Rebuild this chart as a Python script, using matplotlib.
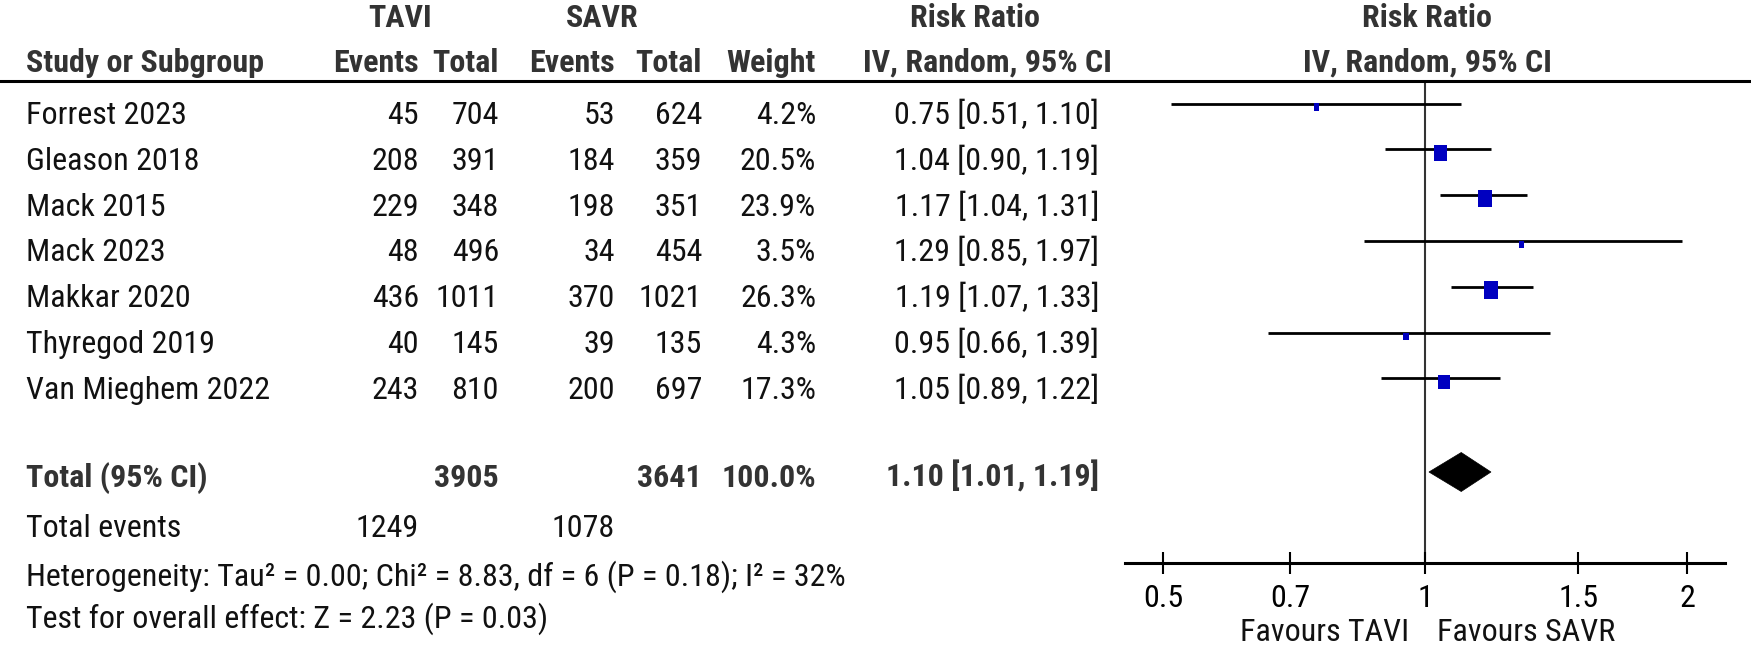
import matplotlib
matplotlib.use('Agg')
import matplotlib.pyplot as plt
from matplotlib import font_manager
from matplotlib.lines import Line2D
from matplotlib.patches import Polygon
from matplotlib.ticker import FixedLocator, FixedFormatter, NullLocator
import numpy as np

# ---------------- data ----------------
studies = ["Forrest 2023", "Gleason 2018", "Mack 2015", "Mack 2023",
           "Makkar 2020", "Thyregod 2019", "Van Mieghem 2022"]
tavi_events = [45, 208, 229, 48, 436, 40, 243]
tavi_total = [704, 391, 348, 496, 1011, 145, 810]
savr_events = [53, 184, 198, 34, 370, 39, 200]
savr_total = [624, 359, 351, 454, 1021, 135, 697]
weights = [4.2, 20.5, 23.9, 3.5, 26.3, 4.3, 17.3]
rr = [0.75, 1.04, 1.17, 1.29, 1.19, 0.95, 1.05]
ci_lo = [0.51, 0.90, 1.04, 0.85, 1.07, 0.66, 0.89]
ci_hi = [1.10, 1.19, 1.31, 1.97, 1.33, 1.39, 1.22]
total_tavi = 3905
total_savr = 3641
total_weight = 100.0
total_events_tavi = 1249
total_events_savr = 1078
pooled_rr = 1.10
pooled_lo = 1.01
pooled_hi = 1.19
tick_values = [0.5, 0.7, 1, 1.5, 2]
tick_labels = ["0.5", "0.7", "1", "1.5", "2"]
heterogeneity = "Heterogeneity: Tau\u00b2 = 0.00; Chi\u00b2 = 8.83, df = 6 (P = 0.18); I\u00b2 = 32%"
overall_effect = "Test for overall effect: Z = 2.23 (P = 0.03)"
favours_left = "Favours TAVI"
favours_right = "Favours SAVR"

# ---------------- fonts ----------------
names = {f.name for f in font_manager.fontManager.ttflist}
FAM, FS = ['Liberation Sans', 'DejaVu Sans'], 19.5
for cand, size in [('Liberation Sans Narrow', 23.5), ('Arial Narrow', 23.5),
                   ('Roboto Condensed', 23.0), ('Open Sans Condensed', 21.0),
                   ('Noto Sans Condensed', 21.5)]:
    if cand in names:
        FAM, FS = [cand, 'DejaVu Sans'], size
        break
plt.rcParams['font.family'] = FAM

W, H = 1751, 648
fig = plt.figure(figsize=(W / 100, H / 100), dpi=100)
fig.patch.set_facecolor('white')

def fx(px):
    return px / W

def fy(py):
    return 1 - py / H

HEAD = '#333333'
BODY = '#111111'

def T(x, ybase, s, ha='left', bold=False, color=BODY):
    fig.text(fx(x), fy(ybase), s, ha=ha, va='baseline', fontsize=FS,
             fontweight='bold' if bold else 'normal', color=color)

# column right edges (pixels)
X_LABEL = 26
X_TE, X_TT, X_SE, X_ST, X_W, X_CI = 419, 499, 615, 702, 816, 1099

# header
T(400, 27, "TAVI", 'center', True, HEAD)
T(602, 27, "SAVR", 'center', True, HEAD)
T(975, 27, "Risk Ratio", 'center', True, HEAD)
T(1427, 27, "Risk Ratio", 'center', True, HEAD)
T(X_LABEL, 72, "Study or Subgroup", 'left', True, HEAD)
T(X_TE, 72, "Events", 'right', True, HEAD)
T(X_TT, 72, "Total", 'right', True, HEAD)
T(X_SE, 72, "Events", 'right', True, HEAD)
T(X_ST, 72, "Total", 'right', True, HEAD)
T(X_W, 72, "Weight", 'right', True, HEAD)
T(1112, 72, "IV, Random, 95% CI", 'right', True, HEAD)
T(1427, 72, "IV, Random, 95% CI", 'center', True, HEAD)

fig.add_artist(Line2D([0, 1], [fy(81), fy(81)], transform=fig.transFigure,
                      color='black', lw=2.2))

# rows (text)
TXT0, STEP = 112.0, 45.83
for i, name in enumerate(studies):
    yb = TXT0 + STEP * i + 12
    T(X_LABEL, yb, name)
    T(X_TE, yb, f"{tavi_events[i]}", 'right')
    T(X_TT, yb, f"{tavi_total[i]}", 'right')
    T(X_SE, yb, f"{savr_events[i]}", 'right')
    T(X_ST, yb, f"{savr_total[i]}", 'right')
    T(X_W, yb, f"{weights[i]:.1f}%", 'right')
    T(X_CI, yb, f"{rr[i]:.2f} [{ci_lo[i]:.2f}, {ci_hi[i]:.2f}]", 'right')

# totals
T(X_LABEL, 487, "Total (95% CI)", 'left', True, HEAD)
T(X_TT, 487, f"{total_tavi}", 'right', True, HEAD)
T(X_ST, 487, f"{total_savr}", 'right', True, HEAD)
T(X_W, 487, f"{total_weight:.1f}%", 'right', True, HEAD)
T(X_CI, 487, f"{pooled_rr:.2f} [{pooled_lo:.2f}, {pooled_hi:.2f}]", 'right', True, HEAD)
T(X_LABEL, 537, "Total events")
T(X_TE, 537, f"{total_events_tavi}", 'right')
T(X_SE, 537, f"{total_events_savr}", 'right')
T(X_LABEL, 586, heterogeneity)
T(X_LABEL, 628, overall_effect)

# ---------------- forest axes ----------------
AX_L, AX_R, AX_T, AX_B = 1125, 1725, 81, 563
ax = fig.add_axes([fx(AX_L), fy(AX_B), (AX_R - AX_L) / W, (AX_B - AX_T) / H])
ax.set_facecolor('none')

LINE0 = 103.5  # pixel y of first CI line

def row_of(py):
    return (py - LINE0) / STEP

ax.set_xscale('log')
ax.set_xlim(0.452, 2.21)
ax.set_ylim(row_of(AX_B), row_of(AX_T))
for s in ['top', 'left', 'right']:
    ax.spines[s].set_visible(False)
ax.spines['bottom'].set_linewidth(2.2)
ax.xaxis.set_major_locator(FixedLocator(tick_values))
ax.xaxis.set_major_formatter(FixedFormatter(tick_labels))
ax.xaxis.set_minor_locator(NullLocator())
ax.set_yticks([])
ax.tick_params(axis='x', direction='inout', length=16.5, width=1.5,
               pad=7, labelsize=FS, colors='black')

ax.axvline(1, color='#333333', lw=1.5, zorder=1)

ys = np.arange(len(studies))
ax.hlines(ys, ci_lo, ci_hi, color='black', lw=2.0, zorder=2)
height_pt = 3.5 * np.sqrt(np.array(weights)) * 72 / 100
rect = [(-0.41, -0.5), (0.41, -0.5), (0.41, 0.5), (-0.41, 0.5)]
ax.scatter(rr, ys + 3.5 / STEP, marker=rect, s=height_pt ** 2,
           color='#0000C0', edgecolors='none', zorder=3)

y_tot = row_of(472)
h = 19.5 / STEP
ax.add_patch(Polygon([(pooled_lo, y_tot), (pooled_rr, y_tot - h),
                      (pooled_hi, y_tot), (pooled_rr, y_tot + h)],
                     closed=True, facecolor='black', edgecolor='black', lw=0.5,
                     zorder=3))

T(1409, 641, favours_left, 'right')
T(1437, 641, favours_right, 'left')

fig.savefig('out.png', dpi=100, facecolor='white')
